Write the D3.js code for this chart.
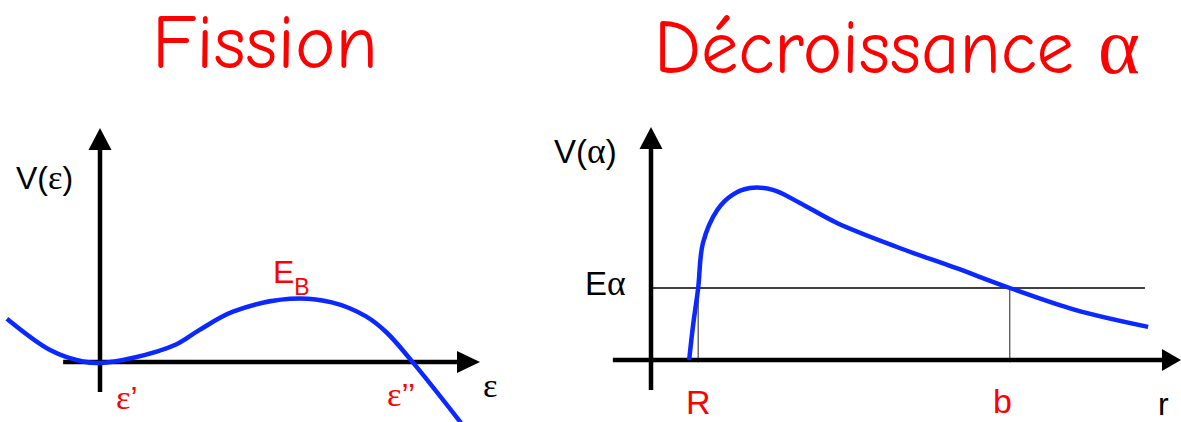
<!DOCTYPE html>
<html>
<head>
<meta charset="utf-8">
<script src="https://cdn.jsdelivr.net/npm/d3@7"></script>
<style>
  body { margin: 0; background: #fff; }
  text { font-family: "Liberation Sans", Arial, Helvetica, sans-serif; }
  .titre { font-family: "Comic Sans MS", "Comic Neue", "DejaVu Sans", sans-serif; fill: #ff0000; }
  .grec { font-family: "Liberation Serif", "Times New Roman", serif; }
</style>
</head>
<body>
<script>
const WIDTH = 1181;
const HEIGHT = 422;

// Fission : V(ε) en fonction de la déformation ε (unités arbitraires)
const fissionEps = [-2.45, -1.3, -0.45, 0, 0.85, 2.0, 2.6, 3.5, 5.0, 6.1, 7.0, 7.55, 8.25, 9.5];
const fissionV = [1.85, 0.5, 0.02, -0.04, 0.17, 0.75, 1.35, 2.15, 2.7, 2.55, 1.95, 1.25, -0.05, -2.6];

// Décroissance α : V(α) en fonction de r (unités arbitraires)
const alphaR = [0.72, 0.79, 0.89, 0.98, 1.25, 1.53, 1.87, 2.3, 2.81, 3.51, 4.64, 5.75, 6.77, 8.0, 9.38];
const alphaV = [0, 1.42, 3.09, 5.02, 6.44, 7.08, 7.38, 7.3, 6.74, 5.88, 4.85, 3.95, 3.09, 2.15, 1.42];
// Eα, rayon R, point de sortie b
const alphaNiveaux = [3.09];
const alphaReperes = [0.89, 6.77];

const svg = d3.select("body").append("svg")
  .attr("width", WIDTH)
  .attr("height", HEIGHT);

//Echelles des deux graphes
const xL = d3.scaleLinear().domain([0, 10]).range([100, 480]);
const yL = d3.scaleLinear().domain([0, 10]).range([362, 128]);
const xR = d3.scaleLinear().domain([0, 10]).range([651, 1181]);
const yR = d3.scaleLinear().domain([0, 10]).range([360, 127]);

//Axes avec flèches
function axes(g, x, y, xMin, yMin, lenX) {
  const x0 = x(0), y0 = y(0);
  const xEnd = x(10), yEnd = y(10);
  g.append("line")
    .attr("x1", x(xMin)).attr("x2", xEnd - lenX + 2)
    .attr("y1", y0).attr("y2", y0)
    .attr("stroke", "#000").attr("stroke-width", 4.5);
  g.append("path")
    .attr("d", `M${xEnd},${y0} L${xEnd - lenX},${y0 - 11} L${xEnd - lenX},${y0 + 11} Z`)
    .attr("fill", "#000");
  g.append("line")
    .attr("x1", x0).attr("x2", x0)
    .attr("y1", y(yMin)).attr("y2", yEnd + 20)
    .attr("stroke", "#000").attr("stroke-width", 4.5);
  g.append("path")
    .attr("d", `M${x0},${yEnd} L${x0 - 11.5},${yEnd + 22} L${x0 + 11.5},${yEnd + 22} Z`)
    .attr("fill", "#000");
}

//Graphe 1 : Fission
const g1 = svg.append("g");
axes(g1, xL, yL, -0.97, -1.28, 23);

g1.append("path")
  .datum(d3.zip(fissionEps, fissionV))
  .attr("fill", "none")
  .attr("stroke", "#0a28ff")
  .attr("stroke-width", 4.5)
  .attr("d", d3.line().x(d => xL(d[0])).y(d => yL(d[1])).curve(d3.curveCatmullRom));

//Graphe 2 : Décroissance alpha
const g2 = svg.append("g");

// ligne Eα et repères R, b
g2.selectAll(".niveau").data(alphaNiveaux).enter().append("line")
  .attr("class", "niveau")
  .attr("x1", xR(0)).attr("x2", xR(9.32))
  .attr("y1", d => yR(d)).attr("y2", d => yR(d))
  .attr("stroke", "#000").attr("stroke-width", 1.6);
g2.selectAll(".repere").data(alphaReperes).enter().append("line")
  .attr("class", "repere")
  .attr("x1", d => xR(d)).attr("x2", d => xR(d))
  .attr("y1", yR(alphaNiveaux[0])).attr("y2", yR(-0.1))
  .attr("stroke", "#222").attr("stroke-width", 1);

axes(g2, xR, yR, -0.72, -1.29, 19);

g2.append("path")
  .datum(d3.zip(alphaR, alphaV))
  .attr("fill", "none")
  .attr("stroke", "#0a28ff")
  .attr("stroke-width", 4.5)
  .attr("d", d3.line().x(d => xR(d[0])).y(d => yR(d[1])).curve(d3.curveCatmullRom));

//Titres
svg.append("text").attr("class", "titre")
  .attr("x", 152).attr("y", 68)
  .attr("font-size", 76)
  .attr("textLength", 226).attr("lengthAdjust", "spacingAndGlyphs")
  .text("Fission");
svg.append("text").attr("class", "titre")
  .attr("x", 654).attr("y", 73)
  .attr("font-size", 76)
  .attr("textLength", 420).attr("lengthAdjust", "spacingAndGlyphs")
  .text("Décroissance");
svg.append("text").attr("class", "grec")
  .attr("x", 1098).attr("y", 73)
  .attr("font-size", 80)
  .attr("fill", "#ff0000")
  .text("α");

//Etiquettes (lettres grecques en police serif comme Symbol)
function etiquette(x, y, size, color, parts) {
  const t = svg.append("text").attr("x", x).attr("y", y).attr("font-size", size).attr("fill", color);
  parts.forEach(p => {
    const s = t.append("tspan").text(p[0]);
    if (p[1]) s.attr("class", "grec").attr("font-size", size * 1.08);
  });
  return t;
}
etiquette(16, 189, 32, "#000", [["V("], ["ε", 1], [")"]]);
etiquette(483, 397, 32, "#000", [["ε", 1]]);
etiquette(116, 409, 32, "#ff0000", [["ε", 1], ["’"]]);
etiquette(387, 406, 32, "#ff0000", [["ε", 1], ["’’"]]);
const eb = svg.append("text").attr("x", 273).attr("y", 283).attr("font-size", 32).attr("fill", "#ff0000");
eb.append("tspan").text("E");
eb.append("tspan").attr("font-size", 23).attr("dy", 12).text("B");

etiquette(554, 163, 33, "#000", [["V("], ["α", 1], [")"]]);
etiquette(585, 295, 33, "#000", [["E"], ["α", 1]]);
etiquette(686, 414, 34, "#ff0000", [["R"]]);
etiquette(993, 413, 34, "#ff0000", [["b"]]);
etiquette(1158, 415, 32, "#000", [["r"]]);
</script>
</body>
</html>
